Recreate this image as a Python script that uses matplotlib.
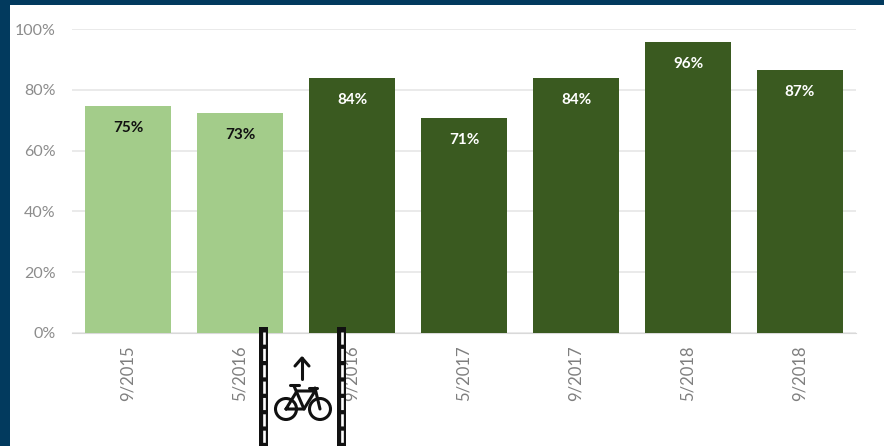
#!/usr/bin/env python3
"""Bar chart of survey percentages, with a bike lane marker under the axis."""

from __future__ import annotations

import matplotlib.pyplot as plt
from matplotlib.patches import Circle, Rectangle

WIDTH, HEIGHT = 884, 446
NAVY = "#023A5E"
LIGHT_GREEN = "#A3CC8A"
DARK_GREEN = "#3A5A20"

dates = ["9/2015", "5/2016", "9/2016", "5/2017", "9/2017", "5/2018", "9/2018"]
heights = [74.7, 72.5, 84.0, 70.8, 83.8, 95.8, 86.5]
labels = ["75%", "73%", "84%", "71%", "84%", "96%", "87%"]
bar_colors = [LIGHT_GREEN, LIGHT_GREEN, DARK_GREEN, DARK_GREEN, DARK_GREEN, DARK_GREEN, DARK_GREEN]
label_colors = ["#111111", "#111111", "white", "white", "white", "white", "white"]
y_ticks = [0, 20, 40, 60, 80, 100]


def draw_lane_edge(ax, x: float) -> None:
    ax.add_patch(Rectangle((x - 4.5, 327), 9, 119, color="#111111", lw=0, zorder=5))
    ax.plot([x, x], [332, 446], color="white", lw=1.9, ls=(0, (4.6, 1.6)), zorder=6)


def draw_bicycle(ax) -> None:
    style = {"color": "#111111", "lw": 2.2, "solid_capstyle": "round", "zorder": 6}
    for cx in (286, 320):
        ax.add_patch(Circle((cx, 409), 10.5, fill=False, ec="#111111", lw=2.2, zorder=6))
    ax.plot([286, 297, 315, 304, 286], [409, 391, 391, 409, 409], **style)
    ax.plot([294, 304], [386, 409], **style)
    ax.plot([315, 320], [388, 409], **style)
    ax.plot([290, 299], [385, 385], **style)
    ax.plot([309, 317], [388, 388], **style)
    # arrow pointing up the lane
    ax.plot([302, 302], [379, 358], **style)
    ax.plot([295, 302, 309], [366, 358, 366], **style)


def main() -> None:
    plt.rcParams["font.family"] = ["Lato", "DejaVu Sans"]
    fig = plt.figure(figsize=(WIDTH / 100, HEIGHT / 100), dpi=100, facecolor="white")

    ax = fig.add_axes([72 / WIDTH, 1 - 333 / HEIGHT, 784 / WIDTH, 304 / HEIGHT])
    positions = list(range(len(dates)))
    bars = ax.bar(positions, heights, width=0.77, color=bar_colors, zorder=3)
    for bar, label, color in zip(bars, labels, label_colors):
        ax.annotate(
            label,
            (bar.get_x() + bar.get_width() / 2, bar.get_height()),
            xytext=(0, -22),
            textcoords="offset pixels",
            ha="center",
            va="center",
            color=color,
            fontsize=11,
            fontweight="bold",
            zorder=4,
        )

    ax.set_xlim(-0.5, len(dates) - 0.5)
    ax.set_ylim(0, 100)
    ax.set_xticks(positions, dates, rotation=90, color="#7F7F7F", fontsize=12)
    ax.set_yticks(y_ticks, [f"{tick}%" for tick in y_ticks], color="#8C8C8C", fontsize=11.5)
    ax.tick_params(length=0)
    ax.tick_params(axis="x", pad=9)
    ax.tick_params(axis="y", pad=12)
    ax.grid(axis="y", color="#E6E6E6", lw=1.2, zorder=0)
    for name in ("top", "right", "left"):
        ax.spines[name].set_visible(False)
    ax.spines["bottom"].set_color("#D9D9D9")

    # page frame and bike lane sit on top, in pixel coordinates
    overlay = fig.add_axes([0, 0, 1, 1], facecolor="none")
    overlay.set_xlim(0, WIDTH)
    overlay.set_ylim(HEIGHT, 0)
    overlay.axis("off")
    overlay.add_patch(Rectangle((0, 0), WIDTH, 5, color=NAVY, lw=0))
    overlay.add_patch(Rectangle((0, 0), 10, HEIGHT, color=NAVY, lw=0))
    draw_lane_edge(overlay, 263.5)
    draw_lane_edge(overlay, 341.5)
    draw_bicycle(overlay)

    fig.savefig("out.png", dpi=100)


if __name__ == "__main__":
    main()
